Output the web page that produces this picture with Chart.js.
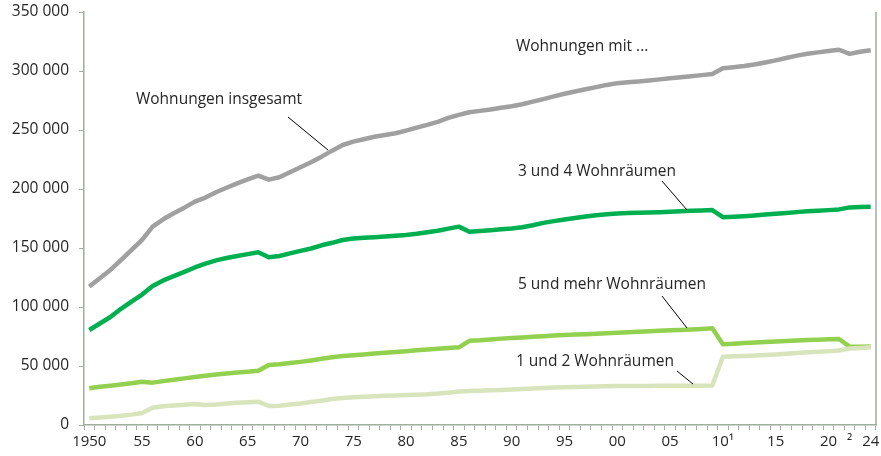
<!DOCTYPE html>
<html>
<head>
<meta charset="utf-8">
<script src="https://cdn.jsdelivr.net/npm/chart.js@4"></script>
<style>
html,body{margin:0;padding:0;background:#fff;}
#wrap{width:881px;height:456px;}
</style>
</head>
<body>
<div id="wrap"><canvas id="c" width="881" height="456"></canvas></div>
<script>
const years = [];
for (let y = 1950; y <= 2024; y++) years.push(y);

const tickLabels = {1950:"1950",1955:"55",1960:"60",1965:"65",1970:"70",1975:"75",1980:"80",1985:"85",1990:"90",1995:"95",2000:"00",2005:"05",2010:"10\u00B9",2015:"15",2020:"20",2022:"\u00B2",2024:"24"};

const total = [117.3,124.3,131.4,139.8,148.3,156.8,168.1,174.3,179.4,184.2,189.3,192.7,197.2,201.1,204.8,208.2,211.3,207.9,209.9,214.2,218.4,222.6,227.4,232.5,237.3,240.1,242.2,244.3,245.8,247.2,249.5,252.0,254.3,256.9,260.2,262.8,265.0,266.2,267.3,268.9,270.2,271.8,274.0,276.2,278.5,280.7,282.6,284.5,286.3,288.2,289.7,290.5,291.2,292.0,292.9,293.8,294.7,295.6,296.5,297.5,302.3,303.2,304.2,305.5,307.2,309.0,311.0,313.0,314.6,315.8,316.9,318.0,314.5,316.3,317.5].map(v=>v*1000);

const threeFour = [80.5,86.0,91.5,98.5,104.5,110.5,117.8,122.5,126.2,129.8,133.5,136.8,139.5,141.5,143.2,144.8,146.4,142.1,143.2,145.5,147.6,149.6,152.3,154.4,156.8,158.0,158.7,159.2,159.8,160.4,161.1,162.0,163.3,164.6,166.4,168.1,163.8,164.5,165.1,165.8,166.6,167.6,169.3,171.3,172.8,174.2,175.5,176.7,177.8,178.6,179.2,179.6,179.9,180.1,180.4,180.8,181.1,181.5,181.8,182.1,176.1,176.5,177.0,177.6,178.3,179.0,179.7,180.4,181.1,181.6,182.1,182.7,184.4,184.8,185.0].map(v=>v*1000);

const fivePlus = [31.1,32.4,33.3,34.4,35.4,36.7,35.9,37.2,38.4,39.5,40.7,41.8,42.8,43.6,44.4,45.2,45.9,50.9,51.5,52.6,53.5,54.6,56.2,57.5,58.4,59.1,59.8,60.5,61.2,61.9,62.6,63.3,64.0,64.7,65.3,65.8,71.3,71.8,72.5,73.2,73.7,74.2,74.8,75.3,75.8,76.2,76.6,77.0,77.4,77.8,78.2,78.7,79.1,79.5,79.8,80.2,80.6,81.0,81.4,81.9,68.5,68.9,69.4,69.9,70.4,70.8,71.2,71.6,72.0,72.3,72.6,72.9,66.4,66.4,66.5].map(v=>v*1000);

const oneTwo = [5.7,6.3,7.0,7.8,8.8,10.2,14.7,15.8,16.5,17.2,17.8,16.9,17.4,18.2,18.8,19.3,19.8,16.1,16.4,17.3,18.3,19.4,20.6,22.0,22.9,23.5,24.0,24.4,24.8,25.1,25.4,25.7,26.0,26.6,27.4,28.3,28.8,29.1,29.4,29.7,30.1,30.5,30.9,31.3,31.7,32.0,32.3,32.5,32.7,32.9,33.0,33.0,33.1,33.1,33.2,33.2,33.2,33.3,33.3,33.4,57.9,58.2,58.5,58.9,59.3,59.8,60.4,61.0,61.6,62.1,62.6,63.2,64.8,65.3,65.8].map(v=>v*1000);

const seriesNames = ["Wohnungen insgesamt","3 und 4 Wohnräumen","5 und mehr Wohnräumen","1 und 2 Wohnräumen"];

const AXIS = '#9fae9f';
const TXT = '#262626';
const FONT = '"Open Sans", "Noto Sans", sans-serif';

// annotations: text anchor (year, value) + leader line (year,value)->(year,value)
const notes = [
  {text:"Wohnungen mit ...", x:1950+(516-89.3)/10.56, y:(425-47)*847.5},
  {text:"Wohnungen insgesamt", x:1950+(136-89.3)/10.56, y:(425-100)*847.5, line:[1950+(288-89.3)/10.56,(425-117)*847.5,1950+(328-89.3)/10.56,(425-150)*847.5]},
  {text:"3 und 4 Wohnräumen", x:1950+(518-89.3)/10.56, y:(425-172)*847.5, line:[1950+(662-89.3)/10.56,(425-181)*847.5,1950+(687-89.3)/10.56,(425-210)*847.5]},
  {text:"5 und mehr Wohnräumen", x:1950+(518-89.3)/10.56, y:(425-285)*847.5, line:[1950+(662-89.3)/10.56,(425-296)*847.5,1950+(687-89.3)/10.56,(425-328)*847.5]},
  {text:"1 und 2 Wohnräumen", x:1950+(516-89.3)/10.56, y:(425-362)*847.5, line:[1950+(677-89.3)/10.56,(425-371)*847.5,1950+(693-89.3)/10.56,(425-384)*847.5]}
];

const notePlugin = {
  id:'notes',
  afterDatasetsDraw(chart){
    const ctx = chart.ctx, xs = chart.scales.x, ys = chart.scales.y;
    const px = yr => xs.getPixelForValue(yr-1950);
    ctx.save();
    ctx.font = '15.5px ' + FONT;
    ctx.fillStyle = TXT;
    ctx.textBaseline = 'middle';
    ctx.textAlign = 'left';
    notes.forEach(n=>{
      ctx.fillText(n.text, px(n.x), ys.getPixelForValue(n.y));
      if(n.line){
        ctx.strokeStyle = '#000';
        ctx.lineWidth = 1;
        ctx.beginPath();
        ctx.moveTo(px(n.line[0]), ys.getPixelForValue(n.line[1]));
        ctx.lineTo(px(n.line[2]), ys.getPixelForValue(n.line[3]));
        ctx.stroke();
      }
    });
    // right border
    const a = chart.chartArea;
    ctx.strokeStyle = AXIS;
    ctx.lineWidth = 1.5;
    ctx.beginPath();
    ctx.moveTo(a.right, a.top);
    ctx.lineTo(a.right, a.bottom);
    ctx.stroke();
    ctx.restore();
  }
};

function ds(label, data, color){
  return {label, data, borderColor:color, backgroundColor:color, borderWidth:4.5, pointRadius:0, tension:0, borderJoinStyle:'round', borderCapStyle:'butt', fill:false};
}

new Chart(document.getElementById('c'), {
  type:'line',
  data:{
    labels: years,
    datasets:[
      ds(seriesNames[3], oneTwo, '#d8e4bc'),
      ds(seriesNames[2], fivePlus, '#92d050'),
      ds(seriesNames[1], threeFour, '#00b050'),
      ds(seriesNames[0], total, '#a0a0a0')
    ]
  },
  options:{
    responsive:false,
    animation:false,
    layout:{padding:{top:12,right:5,left:0,bottom:0}},
    plugins:{legend:{display:false}, tooltip:{enabled:false}},
    scales:{
      x:{
        type:'category',
        offset:true,
        grid:{display:true, drawOnChartArea:false, offset:true, color:AXIS, tickLength:5, tickWidth:1},
        border:{display:true, color:AXIS, width:1.5},
        ticks:{
          autoSkip:false, maxRotation:0, minRotation:0, color:TXT, padding:3,
          font:{family:FONT, size:15},
          callback:(v,i)=> tickLabels[years[i]] || ''
        },
        afterFit(s){ s.height = 31; s.paddingLeft = 0; s.paddingRight = 0; }
      },
      y:{
        min:0, max:350000,
        grid:{display:true, drawOnChartArea:false, color:AXIS, tickLength:5},
        border:{display:true, color:AXIS, width:1.5},
        ticks:{
          stepSize:50000, color:TXT, padding:10,
          font:{family:FONT, size:15.5},
          callback:v=> v===0 ? '0' : String(v).replace(/\B(?=(\d{3})+(?!\d))/g,' ')
        },
        afterFit(s){ s.width = 84; s.paddingTop = 0; s.paddingBottom = 0; }
      }
    }
  },
  plugins:[notePlugin]
});
</script>
</body>
</html>
